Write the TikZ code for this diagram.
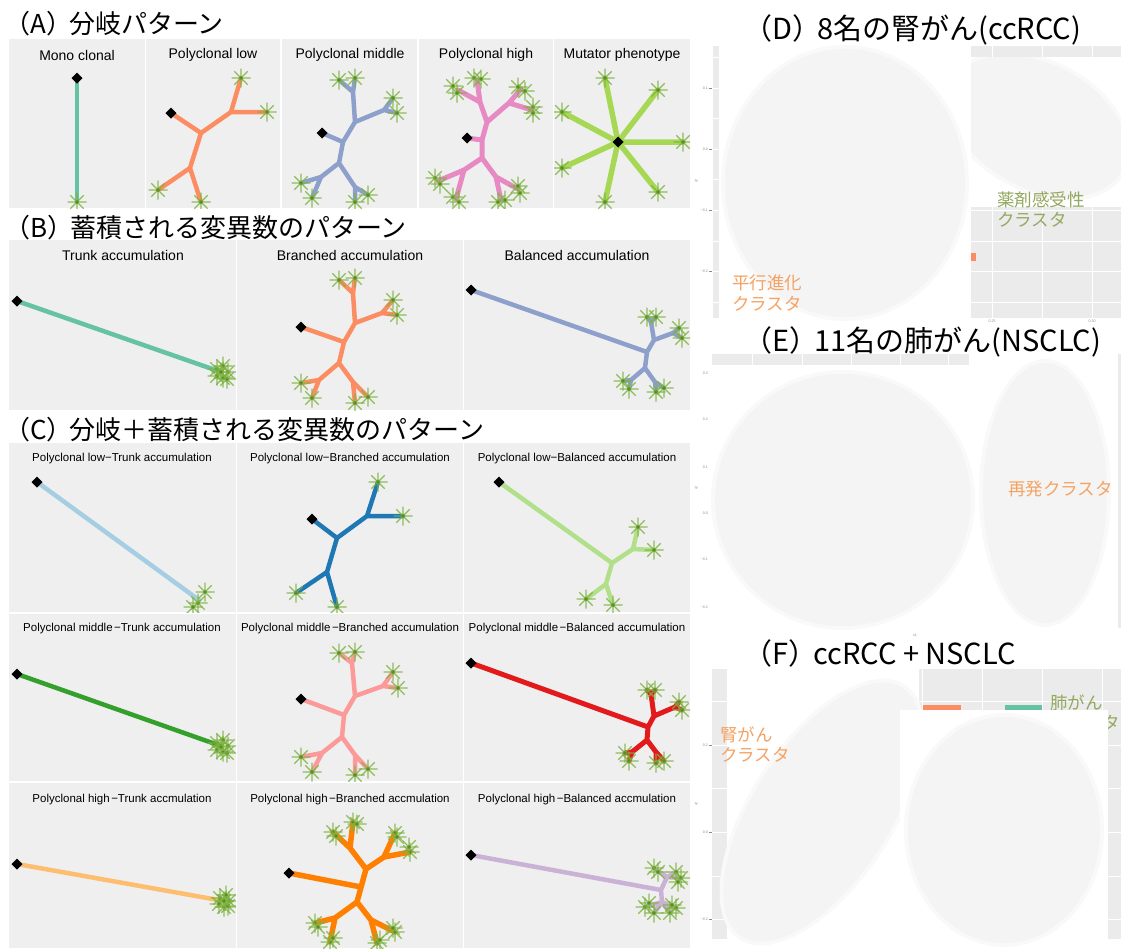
\documentclass[tikz,border=0pt]{standalone}
\usepackage{fontspec}
\setmainfont{Liberation Sans}
\newfontfamily\jp{Noto Sans CJK JP}
\definecolor{pbg}{HTML}{EFEFEF}
\definecolor{gbg}{HTML}{EBEBEB}
\definecolor{blobc}{HTML}{F4F4F4}
\definecolor{blobo}{HTML}{F9F9F9}
\definecolor{astc}{HTML}{7DB23F}
\definecolor{astd}{HTML}{5A8F26}
\definecolor{cMono}{HTML}{66C2A5}
\definecolor{cLow}{HTML}{FC8D62}
\definecolor{cMid}{HTML}{8DA0CB}
\definecolor{cHigh}{HTML}{E78AC3}
\definecolor{cMut}{HTML}{A6D854}
\definecolor{cLB}{HTML}{A6CEE3}
\definecolor{cDB}{HTML}{1F78B4}
\definecolor{cLG}{HTML}{B2DF8A}
\definecolor{cG}{HTML}{33A02C}
\definecolor{cPk}{HTML}{FB9A99}
\definecolor{cRed}{HTML}{E31A1C}
\definecolor{cLO}{HTML}{FDBF6F}
\definecolor{cOr}{HTML}{FF7F00}
\definecolor{cLav}{HTML}{CAB2D6}
\definecolor{labO}{HTML}{F5A262}
\definecolor{labG}{HTML}{93A95F}
\definecolor{tickc}{HTML}{8A8A8A}
\newcommand\stars[1]{\foreach \u/\v in {#1} {\pic at (\u,\v) {ast};}}
\newcommand\blob[4]{\fill[blobo] (#1,#2) ellipse [x radius=#3+4, y radius=#4+4];
  \fill[blobc] (#1,#2) ellipse [x radius=#3, y radius=#4];}
\tikzset{
  br/.style={line width=4.5pt, line cap=round, line join=round},
  ast/.pic={\draw[line width=1.1pt, draw=astc, opacity=.85] (-9.5,0)--(9.5,0) (0,-9.5)--(0,9.5) (-6.7,-6.7)--(6.7,6.7) (-6.7,6.7)--(6.7,-6.7);
            \fill[astd] (0,0) circle (1.9);},
  dia/.pic={\fill[black] (-5.5,0)--(0,-5.5)--(5.5,0)--(0,5.5)--cycle;},
  bt/.style={font=\jp\fontsize{26}{30}\selectfont, inner sep=0pt, anchor=west},
  rt/.style={font=\jp\fontsize{29}{33}\selectfont, inner sep=0pt, anchor=west},
  pt/.style={font=\fontsize{14}{16}\selectfont, inner sep=0pt},
  ct/.style={font=\fontsize{11.5}{13}\selectfont, inner sep=0pt},
  lab/.style={font=\jp\fontsize{17.5}{20.5}\selectfont, inner sep=0pt, anchor=north west, align=left},
  tiny/.style={font=\fontsize{3.6}{4}\selectfont, text=tickc, inner sep=0pt},
  grid/.style={draw=white, line width=1pt},
  gridm/.style={draw=white, line width=0.5pt},
}
\begin{document}
\begin{tikzpicture}[x=1pt,y=-1pt]
\useasboundingbox (0,0) rectangle (1121,948);

% ================= titles left =================
\node[bt] (hA) at (4,24) {（A）\kern-3pt 分岐パターン};
\node[bt] (hB) at (4,228) {（B）\kern-3pt 蓄積される変異数のパターン};
\node[bt] (hC) at (4,430) {（C）\kern-3pt 分岐＋蓄積される変異数のパターン};

% ================= panel backgrounds =================
\foreach \a/\b in {9/145,146/280,282/417,419/553,554/690} \fill[pbg] (\a,39) rectangle (\b,208);
\foreach \a/\b in {9/236,237/463,464/690} {
  \fill[pbg] (\a,240) rectangle (\b,410);
  \fill[pbg] (\a,443) rectangle (\b,612);
  \fill[pbg] (\a,614) rectangle (\b,781);
  \fill[pbg] (\a,783) rectangle (\b,948);
}

% ================= (A) =================
\node[pt] (tA1) at (77,55) {Mono clonal};
\node[pt] (tA2) at (213,55) {Polyclonal low};
\node[pt] (tA3) at (350,55) {Polyclonal middle};
\node[pt] (tA4) at (486,55) {Polyclonal high};
\node[pt] (tA5) at (622,55) {Mutator phenotype};

\begin{scope}
\clip (9,39) rectangle (145,208);
\draw[br,cMono] (77,78)--(77,202);
\stars{77/202}
\pic at (77,78) {dia};
\end{scope}

\begin{scope}
\clip (146,39) rectangle (280,208);
\draw[br,cLow] (171,113)--(201,133)--(231,112)--(241,78) (231,112)--(267,112)
  (201,133)--(190,168)--(158,190) (190,168)--(201,202);
\stars{241/78,267/112,158/190,201/202}
\pic at (171,113) {dia};
\end{scope}

\begin{scope}
\clip (282,39) rectangle (417,208);
\draw[br,cMid] (322,133)--(343,142)--(355,122)--(353,92)--(339,80) (353,92)--(355,78)
  (355,122)--(384,110)--(393,98) (384,110)--(397,113)
  (343,142)--(339,163)--(321,177)--(301,183) (321,177)--(312,198)
  (339,163)--(355,187)--(355,202) (355,187)--(368,195);
\stars{339/80,355/78,393/98,397/113,301/183,312/198,355/202,368/195}
\pic at (322,133) {dia};
\end{scope}

\begin{scope}
\clip (419,39) rectangle (553,208);
\draw[br,cHigh,line width=5pt] (467,138)--(482,140)--(487,122)--(480,102)--(458,90) (480,102)--(477,80)
  (487,122)--(509,103)--(521,89) (509,103)--(532,110)
  (482,140)--(482,158)--(464,170)--(438,181) (464,170)--(456,199)
  (482,158)--(496,177)--(518,189) (496,177)--(501,200);
\stars{453/86,457/93,474/78,481/79,518/87,525/91,533/107,533/113,435/178,440/184,453/197,459/202,518/186,520/193,498/202,505/200}
\pic at (467,138) {dia};
\end{scope}

\begin{scope}
\clip (554,39) rectangle (690,208);
\draw[br,cMut,line width=5.5pt] (618,142)--(605,78) (618,142)--(658,90) (618,142)--(562,112)
  (618,142)--(683,142) (618,142)--(562,168) (618,142)--(658,192) (618,142)--(605,202);
\stars{605/78,658/90,562/112,683/142,562/168,658/192,605/202}
\pic at (618,142) {dia};
\end{scope}

% ================= (B) =================
\node[pt] (tB1) at (123,255) {Trunk accumulation};
\node[pt] (tB2) at (350,255) {Branched accumulation};
\node[pt] (tB3) at (577,255) {Balanced accumulation};

\begin{scope}
\clip (9,240) rectangle (236,410);
\draw[br,cMono] (17,301)--(221,372);
\stars{217/369,223/366,228/372,223/378,217/376,227/379,221/372}
\pic at (17,301) {dia};
\end{scope}

\begin{scope}
\clip (237,240) rectangle (463,410);
\draw[br,cLow] (301,327)--(344,342)--(355,323)--(353,293)--(339,280) (353,293)--(355,278)
  (355,323)--(382,313)--(393,300) (382,313)--(397,315)
  (344,342)--(339,363)--(319,380)--(301,383) (319,380)--(312,398)
  (339,363)--(353,382)--(355,403) (353,382)--(368,397);
\stars{339/280,355/278,393/300,397/315,301/383,312/398,355/403,368/397}
\pic at (301,327) {dia};
\end{scope}

\begin{scope}
\clip (464,240) rectangle (690,410);
\draw[br,cMid] (471,290)--(647,352)--(654,340)--(651,322)--(647,317) (651,322)--(656,317)
  (654,340)--(673,333)--(679,328) (673,333)--(682,338)
  (647,352)--(645,368)--(631,380)--(623,381) (631,380)--(629,389)
  (645,368)--(655,382)--(656,392) (655,382)--(664,388);
\stars{647/317,656/317,679/328,682/338,623/381,629/389,656/392,664/388}
\pic at (471,290) {dia};
\end{scope}

% ================= (C) row 1 =================
\node[ct] (tC11) at (122,459) {Polyclonal low−Trunk accumulation};
\node[ct] (tC12) at (350,459) {Polyclonal low−Branched accumulation};
\node[ct] (tC13) at (577,459) {Polyclonal low−Balanced accumulation};

\begin{scope}
\clip (9,443) rectangle (236,612);
\draw[br,cLB] (37,482)--(199,600);
\stars{205/592,198/603,193/607}
\pic at (37,482) {dia};
\end{scope}

\begin{scope}
\clip (237,443) rectangle (463,612);
\draw[br,cDB] (312,519)--(337,538)--(367,516)--(378,482) (367,516)--(403,516)
  (337,538)--(327,572)--(296,593) (327,572)--(337,607);
\stars{378/482,403/516,296/593,337/607}
\pic at (312,519) {dia};
\end{scope}

\begin{scope}
\clip (464,443) rectangle (690,612);
\draw[br,cLG] (499,482)--(612,563)--(633,549)--(638,527) (633,549)--(654,550)
  (612,563)--(606,584)--(586,599) (606,584)--(613,605);
\stars{638/527,654/550,586/599,613/605}
\pic at (499,482) {dia};
\end{scope}

% ================= (C) row 2 =================
\node[ct] (tC21) at (122,629) {Polyclonal middle\kern1.5pt−Trunk accumulation};
\node[ct] (tC22) at (350,629) {Polyclonal middle\kern1.5pt−Branched accumulation};
\node[ct] (tC23) at (577,629) {Polyclonal middle\kern1.5pt−Balanced accumulation};

\begin{scope}
\clip (9,614) rectangle (236,781);
\draw[br,cG] (17,674)--(221,746);
\stars{217/743,223/740,228/746,223/752,217/750,227/753,221/747}
\pic at (17,674) {dia};
\end{scope}

\begin{scope}
\clip (237,614) rectangle (463,781);
\draw[br,cPk] (301,699)--(344,715)--(355,696)--(352,663)--(339,653) (352,663)--(355,652)
  (355,696)--(383,686)--(393,672) (383,686)--(398,688)
  (344,715)--(342,737)--(322,753)--(301,757) (322,753)--(312,772)
  (342,737)--(355,755)--(355,775) (355,755)--(368,769);
\stars{339/653,355/652,393/672,398/688,301/757,312/772,355/775,368/769}
\pic at (301,699) {dia};
\end{scope}

\begin{scope}
\clip (464,614) rectangle (690,781);
\draw[br,cRed,line width=5pt] (471,663)--(648,727)--(654,716)--(651,694)--(647,690) (651,694)--(655,690)
  (654,716)--(675,707)--(679,702) (675,707)--(682,710)
  (648,727)--(647,740)--(632,752)--(625,753) (632,752)--(629,761)
  (647,740)--(656,752)--(656,763) (656,752)--(664,761);
\stars{647/690,655/690,679/702,682/710,625/753,629/761,656/763,664/761}
\pic at (471,663) {dia};
\end{scope}

% ================= (C) row 3 =================
\node[ct] (tC31) at (122,800) {Polyclonal high\kern1.5pt−Trunk accmulation};
\node[ct] (tC32) at (350,800) {Polyclonal high\kern1.5pt−Branched accmulation};
\node[ct] (tC33) at (577,800) {Polyclonal high\kern1.5pt−Balanced accmulation};

\begin{scope}
\clip (9,783) rectangle (236,948);
\draw[br,cLO] (17,864)--(224,901);
\stars{220/898,226/895,229/901,224/907,219/904,228/906,224/901}
\pic at (17,864) {dia};
\end{scope}

\begin{scope}
\clip (237,783) rectangle (463,948);
\draw[br,cOr,line width=5.5pt] (289,873)--(361,887) (357,902)--(366,869)--(350,848)--(333,832) (350,848)--(353,822)
  (366,869)--(384,857)--(395,833) (384,857)--(410,852)
  (357,902)--(335,918)--(315,923) (335,918)--(330,942)
  (357,902)--(371,920)--(395,932) (371,920)--(377,943);
\stars{333/832,336/836,353/822,357/824,395/833,397/837,410/852,409/847,315/923,318/927,330/942,333/938,395/932,393/928,377/943,380/940}
\pic at (289,873) {dia};
\end{scope}

\begin{scope}
\clip (464,783) rectangle (690,948);
\draw[br,cLav] (471,855)--(661,890)--(667,877)--(654,868) (667,877)--(676,872) (667,877)--(681,878)
  (661,890)--(662,902)--(645,907) (662,902)--(654,913) (662,902)--(670,913) (662,902)--(676,908);
\stars{654/868,658/872,676/872,681/878,678/882,645/907,649/903,654/913,670/913,676/908,672/905}
\pic at (471,855) {dia};
\end{scope}

% ================= (D) =================
\node[rt] (hD) at (743,30) {（D）\kern-4pt 8名の腎がん(ccRCC)};
\fill[gbg] (713,46) rectangle (1121,318);
\foreach \y in {57,118,179,241,302} \draw[gridm] (713,\y)--(1121,\y);
\foreach \y in {88,149,210,271} \draw[grid] (713,\y)--(1121,\y);
\draw[gridm] (1042,46)--(1042,318);
\foreach \x in {992,1092} \draw[grid] (\x,46)--(\x,318);
\fill[cLow] (970,253) rectangle (976,261);
\fill[white] (719,46) rectangle (971,318);
\fill[white] (971,57) rectangle (1121,207);
\blob{845}{183}{120}{134}
\begin{scope}
\clip (971,57) rectangle (1121,207);
\fill[blobo, rotate around={-28:(1038,126)}] (1038,126) ellipse [x radius=99, y radius=66];
\fill[blobc, rotate around={-28:(1038,126)}] (1038,126) ellipse [x radius=95, y radius=62];
\end{scope}
\foreach \y/\t in {88/0.1,149/0.0,210/−0.1,271/−0.2} {
  \node[tiny,anchor=east] at (708,\y) {\t};
  \draw[tickc,line width=0.4pt] (709,\y)--(712,\y);
}
\node[tiny] (dx1) at (992,321) {0.25};
\node[tiny] (dx2) at (1092,321) {0.30};
\node[tiny,rotate=90] (dy) at (696,181) {x2};
\node[lab,text=labO] (lD1) at (732,275) {平行進化\\クラスタ};
\node[lab,text=labG] (lD2) at (997,191) {薬剤感受性\\クラスタ};

% ================= (E) =================
\node[rt] (hE) at (743,342) {（E）\kern-4pt 11名の肺がん(NSCLC)};
\fill[gbg] (712,354) rectangle (969,365);
\foreach \x in {752,802,851,900,948} \draw[grid] (\x,354)--(\x,365);
\fill[gbg] (1118,354) rectangle (1121,628);
\blob{843}{500}{128}{126}
\blob{1045}{493}{62}{130}
\foreach \y/\t in {373/0.3,419/0.2,467/0.1,513/0.0,559/−0.1,607/−0.2}
  \node[tiny,anchor=east] at (708,\y) {\t};
\node[tiny,rotate=90] (ey) at (696,488) {x2};
\node[tiny] (ex) at (915,635) {x1};
\node[lab,text=labO,anchor=west] (lE1) at (1008,489) {再発クラスタ};

% ================= (F) =================
\node[rt] (hF) at (743,653) {（F）\kern-4pt ccRCC + NSCLC};
\fill[gbg] (712,669) rectangle (1121,939);
\foreach \y in {701,788,876} \draw[gridm] (712,\y)--(1121,\y);
\foreach \y in {745,832,919} \draw[grid] (712,\y)--(1121,\y);
\foreach \x in {922,1042} \draw[gridm] (\x,669)--(\x,939);
\foreach \x in {982,1102} \draw[grid] (\x,669)--(\x,939);
\fill[cLow] (923,705) rectangle (961,713);
\fill[cMono] (1005,705) rectangle (1042,713);
\node[lab,text=labG] (lF2) at (1050,694) {肺がん\\クラスタ};
\fill[white] (727,669) rectangle (919,939);
\fill[blobo, rotate around={57:(822,812)}] (822,812) ellipse [x radius=152, y radius=72];
\fill[blobc, rotate around={57:(822,812)}] (822,812) ellipse [x radius=148, y radius=68];
\fill[white] (900,710) rectangle (1108,939);
\blob{1004}{830}{96}{113}
\foreach \y/\t in {745/0.2,832/0.0,919/−0.2} {
  \node[tiny,anchor=east] at (708,\y) {\t};
  \draw[tickc,line width=0.4pt] (709,\y)--(712,\y);
}
\node[tiny,rotate=90] (fy) at (696,804) {x2};
\node[lab,text=labO] (lF1) at (720,726) {腎がん\\クラスタ};
\end{tikzpicture}
\end{document}
